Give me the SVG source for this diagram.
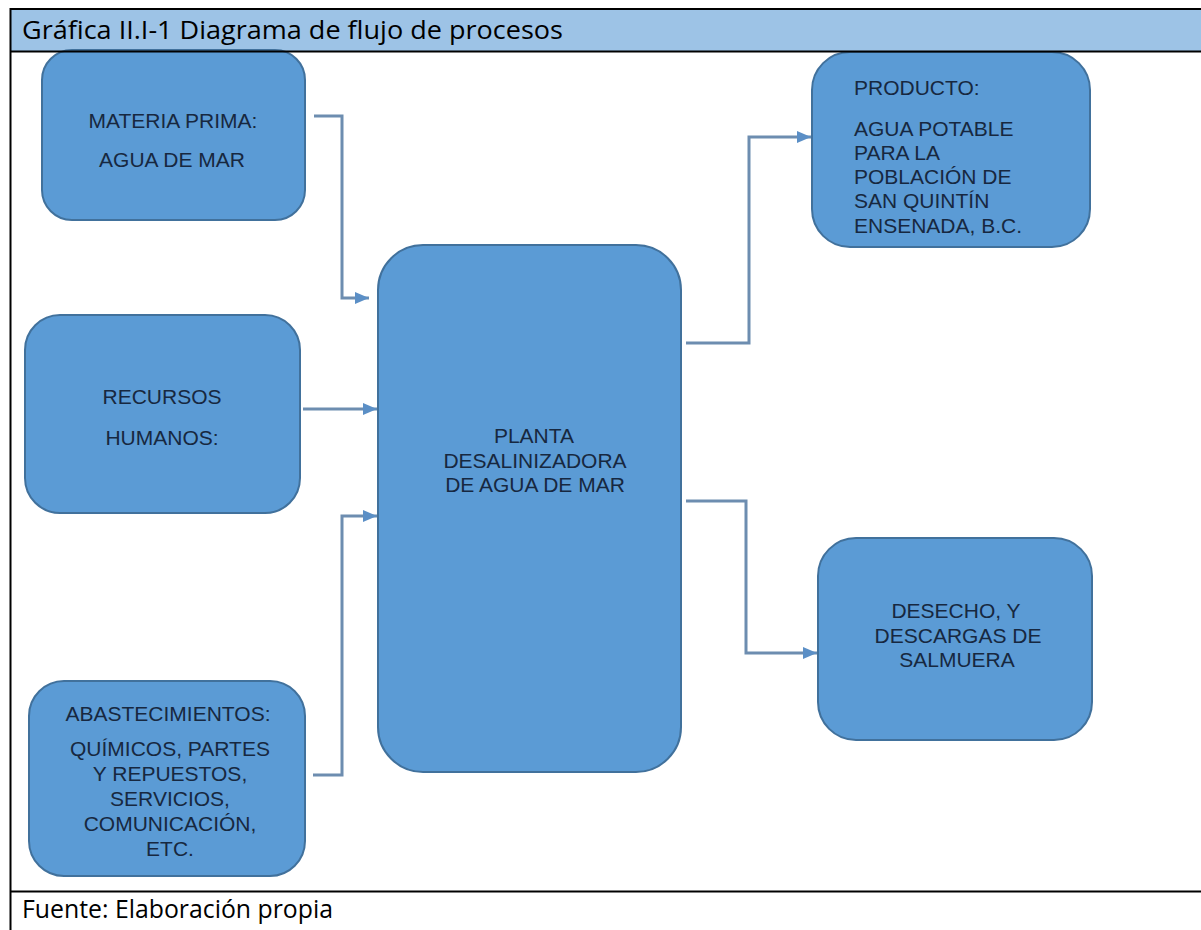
<svg xmlns="http://www.w3.org/2000/svg" width="1201" height="930" viewBox="0 0 1201 930">
<style>
.box{fill:#5B9BD5;stroke:#41719C;stroke-width:2}
.t{font-family:"Liberation Sans",Arial,sans-serif;font-size:21px;fill:#172840}
.c{text-anchor:middle}
.conn{fill:none;stroke:#6D8DB0;stroke-width:3}
.cap{font-family:"Open Sans","Liberation Sans",sans-serif;font-size:25px;fill:#000}
</style>
<defs>
<marker id="arr" viewBox="0 0 14 12" refX="14" refY="6" markerWidth="14" markerHeight="12" markerUnits="userSpaceOnUse" orient="auto">
<path d="M0,0 L14,6 L0,12 z" fill="#5B8FC6"/>
</marker>
</defs>
<rect x="0" y="0" width="1201" height="930" fill="#fff"/>
<rect x="11" y="10" width="1190" height="41" fill="#9DC3E6"/>

<g id="n-materia">
<rect class="box" x="42" y="50" width="263" height="170" rx="30"/>
<text class="t c" x="173" y="128">MATERIA PRIMA:</text>
<text class="t c" x="172" y="167">AGUA DE MAR</text>
</g>
<g id="n-recursos">
<rect class="box" x="25" y="315" width="275" height="198" rx="35"/>
<text class="t c" x="162" y="404">RECURSOS</text>
<text class="t c" x="162" y="445">HUMANOS:</text>
</g>
<g id="n-abast">
<rect class="box" x="29" y="681" width="276" height="195" rx="35"/>
<text class="t c" x="168" y="721">ABASTECIMIENTOS:</text>
<text class="t c" x="170" y="756">QUÍMICOS, PARTES</text>
<text class="t c" x="170" y="781">Y REPUESTOS,</text>
<text class="t c" x="170" y="806">SERVICIOS,</text>
<text class="t c" x="170" y="831">COMUNICACIÓN,</text>
<text class="t c" x="170" y="856">ETC.</text>
</g>
<g id="n-planta">
<rect class="box" x="378" y="245" width="303" height="527" rx="45"/>
<text class="t c" x="534" y="443">PLANTA</text>
<text class="t c" x="535" y="468">DESALINIZADORA</text>
<text class="t c" x="535" y="492">DE AGUA DE MAR</text>
</g>
<g id="n-producto">
<rect class="box" x="812" y="52" width="278" height="195" rx="38"/>
<text class="t" x="854" y="95">PRODUCTO:</text>
<text class="t" x="854" y="136">AGUA POTABLE</text>
<text class="t" x="854" y="160">PARA LA</text>
<text class="t" x="854" y="184">POBLACIÓN DE</text>
<text class="t" x="854" y="208">SAN QUINTÍN</text>
<text class="t" x="854" y="233">ENSENADA, B.C.</text>
</g>
<g id="n-desecho">
<rect class="box" x="818" y="538" width="274" height="202" rx="38"/>
<text class="t c" x="956" y="618">DESECHO, Y</text>
<text class="t c" x="958" y="643">DESCARGAS DE</text>
<text class="t c" x="957" y="667">SALMUERA</text>
</g>

<g id="connectors">
<path class="conn" d="M314,116 H342 V298 H369" marker-end="url(#arr)"/>
<path class="conn" d="M303,409 H377" marker-end="url(#arr)"/>
<path class="conn" d="M313,775 H342 V516 H377" marker-end="url(#arr)"/>
<path class="conn" d="M686,343 H749 V137 H811" marker-end="url(#arr)"/>
<path class="conn" d="M686,501 H746 V653 H817" marker-end="url(#arr)"/>
</g>

<g id="frame" stroke="#000" stroke-width="2" fill="none">
<line x1="10" y1="9" x2="1201" y2="9"/>
<line x1="10" y1="51.5" x2="1201" y2="51.5"/>
<line x1="10" y1="891.5" x2="1201" y2="891.5"/>
<line x1="10.5" y1="8" x2="10.5" y2="930"/>
</g>
<text class="cap" x="22" y="39" textLength="541" lengthAdjust="spacingAndGlyphs">Gráfica II.I-1 Diagrama de flujo de procesos</text>
<text class="cap" x="22" y="918" textLength="311" lengthAdjust="spacingAndGlyphs">Fuente: Elaboración propia</text>
</svg>
